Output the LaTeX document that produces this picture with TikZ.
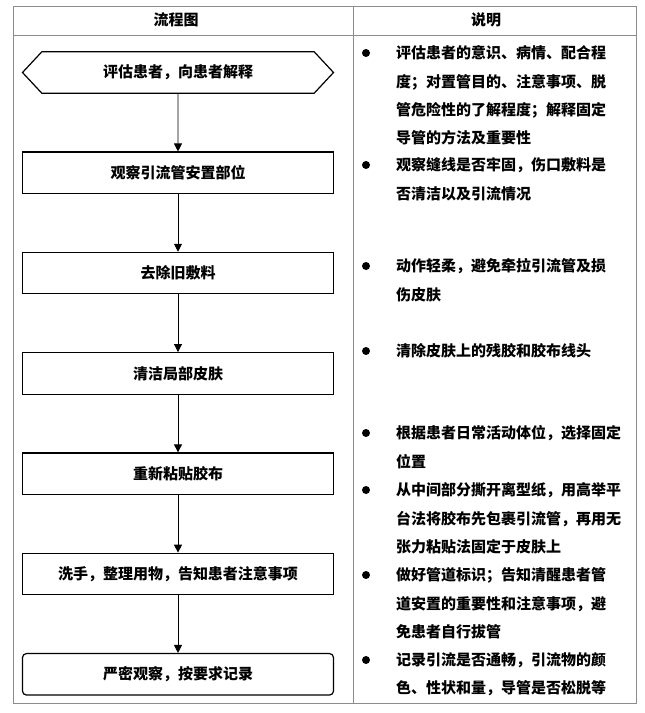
\documentclass[tikz,border=0pt]{standalone}
\usepackage{fontspec}
\setmainfont{Noto Sans CJK SC}
\usepackage{tikz}
\usetikzlibrary{arrows.meta,shapes.symbols}

\begin{document}
\begin{tikzpicture} [x=1pt,y=1pt,>={Triangle[length=8pt,width=8pt]},node distance=100.3pt,
  main node/.style={rectangle,draw,line width=1.2pt,minimum width=311pt,minimum height=41.5pt,font=\bfseries\fontsize{15}{18}\selectfont},
  note/.style={anchor=north west,inner sep=0pt,align=left,font=\bfseries\fontsize{15}{28.4}\selectfont},
  dot/.style={circle,fill,inner sep=0pt,minimum size=8pt},
  frame/.style={draw=black!45,line width=1pt}]
\useasboundingbox (0,0) rectangle (645,-713);
% table
\draw[frame] (13,-6) rectangle (636,-703);
\draw[frame] (13,-35) -- (636,-35);
\draw[frame] (353,-6) -- (353,-703);
\node[font=\bfseries\fontsize{15}{18}\selectfont] (h1) at (176,-20) {流程图};
\node[font=\bfseries\fontsize{15}{18}\selectfont] (h2) at (486,-20) {说明};

\node[main node,signal,signal to=west and east,signal pointer angle=94] (1) at (178,-72.5) {评估患者，向患者解释}; % start
\node[main node] (2) [below of=1] {观察引流管安置部位};
\node[main node] (3) [below of=2] {去除旧敷料};
\node[main node] (4) [below of=3] {清洁局部皮肤};
\node[main node] (5) [below of=4] {重新粘贴胶布};
\node[main node] (6) [below of=5] {洗手，整理用物，告知患者注意事项};
\node[main node,rounded corners=4pt] (7) [below of=6] {严密观察，按要求记录}; % end

\path[->,line width=0.9pt]
(1) edge (2)
(2) edge (3)
(3) edge (4)
(4) edge (5)
(5) edge (6)
(6) edge (7);

% notes
\node[note] (n1) at (396,-45.5) {评估患者的意识、病情、配合程\\度；对置管目的、注意事项、脱\\管危险性的了解程度；解释固定\\导管的方法及重要性};
\node[note] (n2) at (396,-157.5) {观察缝线是否牢固，伤口敷料是\\否清洁以及引流情况};
\node[note] (n3) at (396,-258.5) {动作轻柔，避免牵拉引流管及损\\伤皮肤};
\node[note] (n4) at (396,-343.5) {清除皮肤上的残胶和胶布线头};
\node[note] (n5) at (396,-425.5) {根据患者日常活动体位，选择固定\\位置};
\node[note] (n6) at (396,-482.5) {从中间部分撕开离型纸，用高举平\\台法将胶布先包裹引流管，再用无\\张力粘贴法固定于皮肤上};
\node[note] (n7) at (396,-567.5) {做好管道标识；告知清醒患者管\\道安置的重要性和注意事项，避\\免患者自行拔管};
\node[note] (n8) at (396,-652.5) {记录引流是否通畅，引流物的颜\\色、性状和量，导管是否松脱等};
\node[dot] (b1) at (366,-53) {};
\node[dot] (b2) at (366,-165) {};
\node[dot] (b3) at (366,-266) {};
\node[dot] (b4) at (366,-351) {};
\node[dot] (b5) at (366,-433) {};
\node[dot] (b6) at (366,-490) {};
\node[dot] (b7) at (366,-575) {};
\node[dot] (b8) at (366,-660) {};
\end{tikzpicture}
\end{document}
